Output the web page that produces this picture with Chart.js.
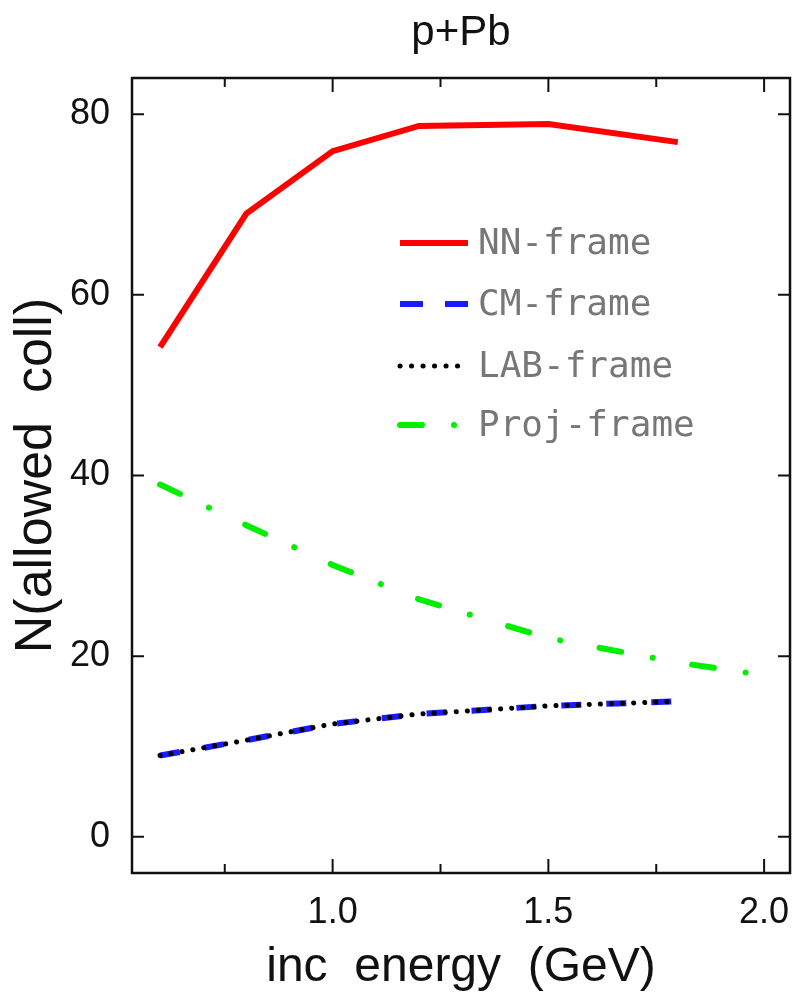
<!DOCTYPE html>
<html>
<head>
<meta charset="utf-8">
<script src="https://cdn.jsdelivr.net/npm/chart.js@4.4.1/dist/chart.umd.min.js"></script>
<style>
  html, body { margin: 0; padding: 0; background: #fff; }
  #wrap { width: 796px; height: 998px; }
</style>
</head>
<body>
<div id="wrap"><canvas id="chart" width="796" height="998"></canvas></div>
<script>
// values
const energyNN = [0.6, 0.8, 1.0, 1.2, 1.5, 1.8];
const nnFrame = [54.2, 69.0, 75.9, 78.7, 78.9, 76.9];

const energyCM = [0.6, 0.8, 1.0, 1.2, 1.5, 1.8];
const cmFrame = [9.0, 10.7, 12.5, 13.6, 14.5, 15.0];
const labFrame = [9.0, 10.7, 12.5, 13.6, 14.5, 15.0];

const energyProj = [0.6, 0.8, 1.0, 1.2, 1.5, 1.8, 1.97];
const projFrame = [39.0, 34.5, 30.1, 26.3, 22.0, 19.3, 18.1];

const xMajor = [1.0, 1.5, 2.0];

const toXY = (xs, ys) => xs.map((x, i) => ({ x, y: ys[i] }));

const axisFont = "'Liberation Sans', Arial, sans-serif";

// frame on all four sides with inward ticks
const framePlugin = {
  id: "frame",
  afterDraw(chart) {
    const { ctx, chartArea: a, scales: { x, y } } = chart;
    ctx.save();
    ctx.strokeStyle = "#111";
    ctx.lineWidth = 2.5;
    ctx.strokeRect(a.left, a.top, a.right - a.left, a.bottom - a.top);
    ctx.lineWidth = 2;
    ctx.beginPath();
    x.ticks.forEach(t => {
      const px = x.getPixelForValue(t.value);
      const len = xMajor.some(m => Math.abs(m - t.value) < 1e-6) ? 14 : 9;
      ctx.moveTo(px, a.bottom); ctx.lineTo(px, a.bottom - len);
      ctx.moveTo(px, a.top); ctx.lineTo(px, a.top + len);
    });
    y.ticks.forEach(t => {
      const py = y.getPixelForValue(t.value);
      ctx.moveTo(a.left, py); ctx.lineTo(a.left + 12, py);
      ctx.moveTo(a.right, py); ctx.lineTo(a.right - 12, py);
    });
    ctx.stroke();
    ctx.restore();
  }
};

// legend drawn inside the plot like the original
const legendPlugin = {
  id: "innerLegend",
  afterDraw(chart) {
    const { ctx } = chart;
    const x0 = 400, x1 = 468, rowY = [243, 304, 366, 425];
    ctx.save();
    chart.data.datasets.forEach((ds, i) => {
      const yy = rowY[i];
      ctx.strokeStyle = ds.borderColor;
      ctx.lineWidth = ds.borderWidth;
      ctx.lineCap = ds.borderCapStyle || "butt";
      ctx.setLineDash(ds.legendDash || ds.borderDash || []);
      ctx.beginPath();
      ctx.moveTo(x0, yy); ctx.lineTo(x1, yy);
      ctx.stroke();
      ctx.setLineDash([]);
      ctx.fillStyle = "#777";
      ctx.font = "36px 'DejaVu Sans Mono', monospace";
      ctx.textBaseline = "middle";
      ctx.fillText(ds.label, 478, yy + 2);
    });
    ctx.restore();
  }
};

new Chart(document.getElementById("chart"), {
  type: "scatter",
  data: {
    datasets: [
      {
        label: "NN-frame",
        data: toXY(energyNN, nnFrame),
        showLine: true,
        borderColor: "#ff0000",
        borderWidth: 6,
        pointRadius: 0,
        order: 3
      },
      {
        label: "CM-frame",
        data: toXY(energyCM, cmFrame),
        showLine: true,
        borderColor: "#1a1aff",
        borderWidth: 6,
        borderDash: [20, 25],
        legendDash: [23, 22],
        pointRadius: 0,
        order: 2
      },
      {
        label: "LAB-frame",
        data: toXY(energyCM, labFrame),
        showLine: true,
        borderColor: "#000000",
        borderWidth: 5,
        borderCapStyle: "round",
        borderDash: [0.1, 11],
        legendDash: [0.1, 11.4],
        pointRadius: 0,
        order: 1
      },
      {
        label: "Proj-frame",
        data: toXY(energyProj, projFrame),
        showLine: true,
        borderColor: "#00ee00",
        borderWidth: 6,
        borderCapStyle: "round",
        borderDash: [22, 32, 0.1, 40],
        legendDash: [22, 32, 0.1, 40],
        pointRadius: 0,
        order: 4
      }
    ]
  },
  options: {
    responsive: false,
    animation: false,
    layout: { padding: { left: 0, right: 6, top: 0, bottom: 0 } },
    plugins: {
      legend: { display: false },
      tooltip: { enabled: false },
      title: {
        display: true,
        fullSize: false,
        text: "p+Pb",
        color: "#111",
        font: { family: axisFont, size: 42, weight: "normal" },
        padding: { top: 8, bottom: 19.6 }
      }
    },
    scales: {
      x: {
        type: "linear",
        min: 0.535,
        max: 2.06,
        grid: { display: false, drawTicks: false },
        border: { display: false },
        afterFit(scale) {
          scale.height = 125;
          scale.paddingLeft = 0;
          scale.paddingRight = 0;
        },
        ticks: {
          stepSize: 0.25,
          includeBounds: false,
          autoSkip: false,
          maxRotation: 0,
          padding: 18,
          color: "#111",
          font: { family: axisFont, size: 36 },
          callback: v => xMajor.some(m => Math.abs(m - v) < 1e-6) ? v.toFixed(1) : ""
        },
        title: {
          display: true,
          text: "inc  energy  (GeV)",
          color: "#111",
          font: { family: axisFont, size: 48 },
          padding: { top: 0, bottom: 1 }
        }
      },
      y: {
        min: -4,
        max: 84,
        grid: { display: false, drawTicks: false },
        border: { display: false },
        afterFit(scale) {
          scale.width = 132;
          scale.paddingTop = 0;
          scale.paddingBottom = 0;
        },
        ticks: {
          stepSize: 20,
          includeBounds: false,
          padding: 22,
          color: "#111",
          font: { family: axisFont, size: 36 }
        },
        title: {
          display: true,
          text: "N(allowed  coll)",
          color: "#111",
          font: { family: axisFont, size: 52 },
          padding: { top: 5, bottom: 0 }
        }
      }
    }
  },
  plugins: [framePlugin, legendPlugin]
});
</script>
</body>
</html>
